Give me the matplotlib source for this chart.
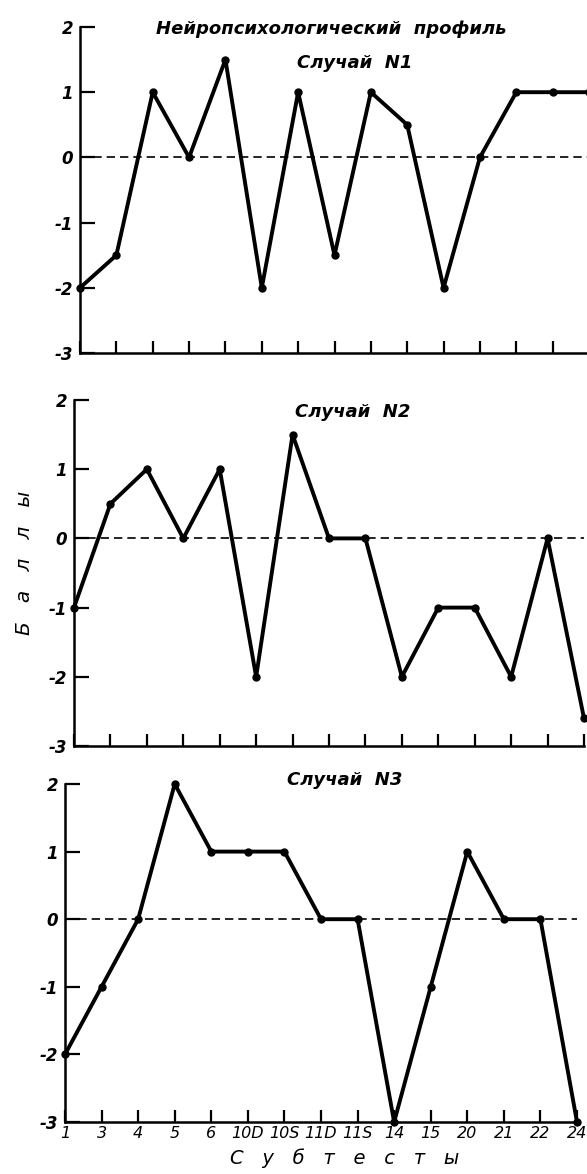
import numpy as np
import matplotlib
matplotlib.use("Agg")
import matplotlib.pyplot as plt

# subtests on the x axis and scores for each case
subtests = ["1", "3", "4", "5", "6", "10D", "10S", "11D", "11S", "14", "15", "20", "21", "22", "24"]
case1 = [-2, -1.5, 1, 0, 1.5, -2, 1, -1.5, 1, 0.5, -2, 0, 1, 1, 1]
case2 = [-1, 0.5, 1, 0, 1, -2, 1.5, 0, 0, -2, -1, -1, -2, 0, -2.6]
case3 = [-2, -1, 0, 2, 1, 1, 1, 0, 0, -3, -1, 1, 0, 0, -3]
titles = ["Случай  N1", "Случай  N2", "Случай  N3"]
yticks = [-3, -2, -1, 0, 1, 2]

W, H = 587, 1174


def px_rect(x0, x1, ytop, ybot):
    # pixel box (from top-left) -> figure fraction
    return [x0 / W, 1 - ybot / H, (x1 - x0) / W, (ybot - ytop) / H]


def draw_case(fig, rect, values, labels):
    ax = fig.add_axes(rect)
    ax.patch.set_alpha(0)
    x = np.arange(len(subtests))
    ax.plot([x[0], x[-1]], [0, 0], color="black", lw=1.2, ls=(0, (5, 3)))
    ax.plot(x, values, "-o", color="black", lw=2.8, ms=5, clip_on=False, zorder=3)
    ax.set_xlim(x[0], x[-1])
    ax.set_ylim(-3, 2)
    for s in ["top", "right"]:
        ax.spines[s].set_visible(False)
    for s in ["left", "bottom"]:
        ax.spines[s].set_linewidth(1.8)
    ax.set_yticks(yticks)
    ax.set_yticklabels([str(v) for v in yticks], fontweight="bold")
    ax.set_xticks(x)
    if labels:
        ax.set_xticklabels(subtests)
    else:
        ax.set_xticklabels([])
    ax.tick_params(axis="y", direction="in", length=11, width=1.6, pad=5, labelsize=12)
    ax.tick_params(axis="x", direction="in", length=8.5, width=1.6, pad=3, labelsize=11.5)
    return ax


def main():
    plt.rcParams["font.family"] = ["DejaVu Sans"]
    plt.rcParams["font.style"] = "italic"
    plt.rcParams["axes.unicode_minus"] = False

    fig = plt.figure(figsize=(W / 100, H / 100), dpi=100)

    draw_case(fig, px_rect(80, 589, 27, 353), case1, False)
    draw_case(fig, px_rect(74, 584, 400, 746), case2, False)
    draw_case(fig, px_rect(65, 577, 784, 1122), case3, True)

    fig.text(331 / W, 1 - 29 / H, "Нейропсихологический  профиль",
             ha="center", va="center", fontsize=13, fontweight="bold")
    for (cx, cy), t in zip([(355, 63), (353, 412), (345, 780)], titles):
        fig.text(cx / W, 1 - cy / H, t, ha="center", va="center",
                 fontsize=13, fontweight="bold")

    fig.text(25 / W, 1 - 563 / H, "Б   а   л   л   ы", rotation=90,
             ha="center", va="center", fontsize=14.5)
    fig.text(345 / W, 1 - 1158 / H, "С   у   б   т   е   с   т   ы",
             ha="center", va="center", fontsize=14)

    fig.savefig("out.png", dpi=100)


if __name__ == "__main__":
    main()
